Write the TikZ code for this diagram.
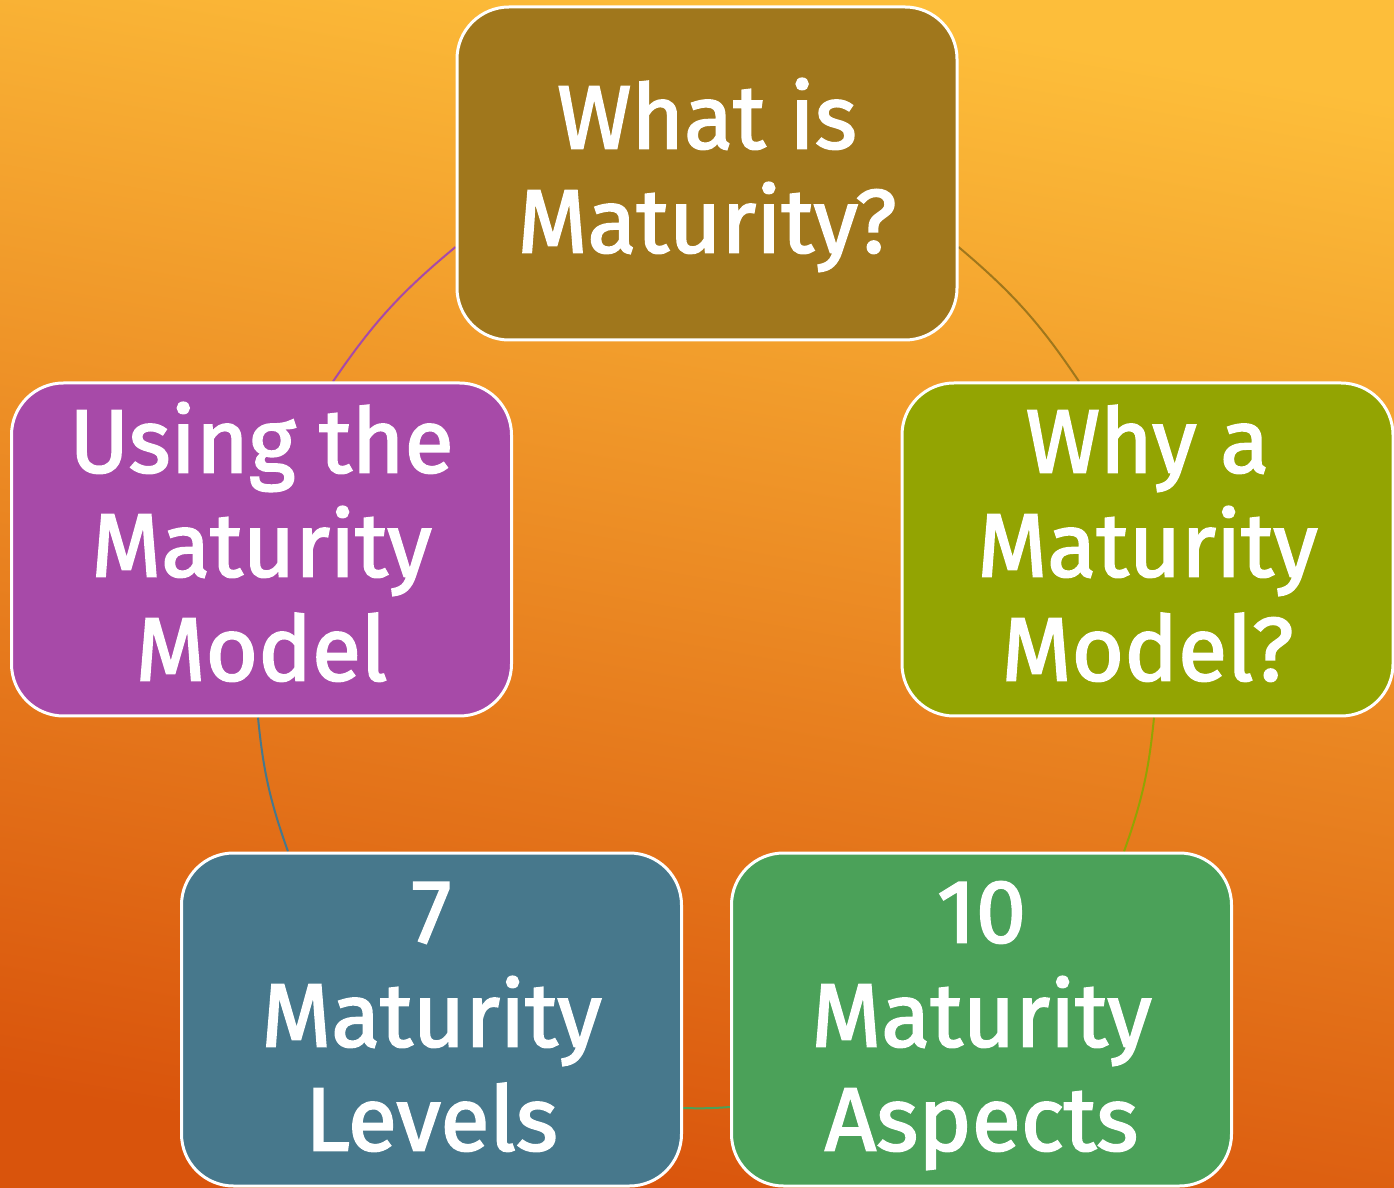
\documentclass[tikz,border=0pt]{standalone}
\usepackage{fontspec}
\newfontfamily\cyclefont{Fira Sans}[FakeBold=2]
\usetikzlibrary{backgrounds}

\definecolor{bgtop}{RGB}{253,190,58}
\definecolor{bgmid}{RGB}{238,152,44}
\definecolor{bgbot}{RGB}{217,84,12}
\definecolor{cwhat}{RGB}{160,119,28}
\definecolor{cwhy}{RGB}{147,164,2}
\definecolor{caspects}{RGB}{75,161,89}
\definecolor{clevels}{RGB}{71,120,140}
\definecolor{cusing}{RGB}{167,74,168}

% struts giving every label the same first-line height and last-line depth
\newcommand\topstrut{\rule{0pt}{82pt}}
\newcommand\botstrut{\rule[-28pt]{0pt}{28pt}}

\begin{document}
\begin{tikzpicture}[x=1pt,y=1pt,
  stage/.style={rectangle, rounded corners=52pt, draw=white, line width=3pt,
    minimum width=500pt, minimum height=333pt, inner sep=0pt,
    text=white, align=center,
    font=\cyclefont\fontsize{90}{104}\selectfont},
  link/.style={line width=2pt}]
\useasboundingbox (0,0) rectangle (1394,1187);

% page background
\begin{pgfonlayer}{background}
  \shade[top color=bgtop, middle color=bgmid, bottom color=bgbot, shading angle=-10]
    (0,0) rectangle (1394,1187);
\end{pgfonlayer}

% the five stages of the cycle
\node[stage, fill=cwhat]    (what)    at (707,1013.5)  {\topstrut What is\\Maturity?\botstrut};
\node[stage, fill=cwhy, minimum width=491pt] (why) at (1147.5,637.5) {\topstrut Why a\\Maturity\\Model?\botstrut};
\node[stage, fill=caspects] (aspects) at (981.5,167.5)  {\topstrut 10\\Maturity\\Aspects\botstrut};
\node[stage, fill=clevels]  (levels)  at (431.5,167.5)  {\topstrut 7\\Maturity\\Levels\botstrut};
\node[stage, fill=cusing]   (using)   at (261.5,637.5)  {\topstrut Using the\\Maturity\\Model\botstrut};

% connecting arcs, drawn behind the stages
\begin{pgfonlayer}{background}
  \draw[link, cwhat]    ([yshift=-73.5pt]what.east)     to[bend left=8]  ([xshift=-68.5pt]why.north);
  \draw[link, cwhy]     ([xshift=6.5pt]why.south)       to[bend left=7]  ([xshift=142.5pt]aspects.north);
  \draw[link, caspects] ([yshift=-87.5pt]aspects.west)  to[bend left=3]  ([yshift=-88.5pt]levels.east);
  \draw[link, clevels]  ([xshift=-143.5pt]levels.north) to[bend left=7]  ([xshift=-3.5pt]using.south);
  \draw[link, cusing]   ([xshift=71.5pt]using.north)    to[bend left=8]  ([yshift=-73.5pt]what.west);
\end{pgfonlayer}
\end{tikzpicture}
\end{document}
